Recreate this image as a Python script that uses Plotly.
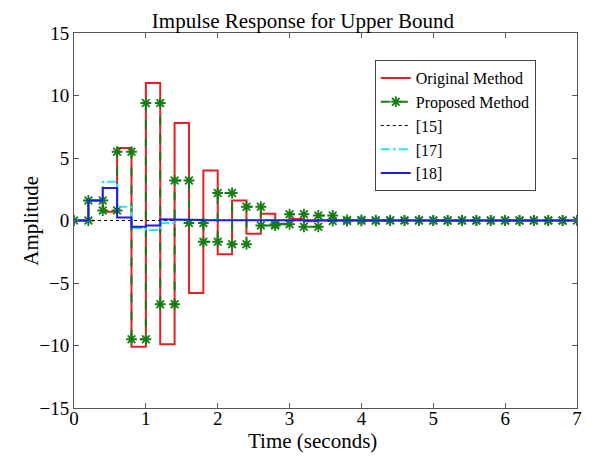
import plotly.graph_objects as go

# sample instants (Ts = 0.2 s), step edges from 0 to 7 s
time = [0.0, 0.2, 0.4, 0.6, 0.8, 1.0, 1.2, 1.4, 1.6, 1.8,
        2.0, 2.2, 2.4, 2.6, 2.8, 3.0, 3.2, 3.4, 3.6, 3.8,
        4.0, 4.2, 4.4, 4.6, 4.8, 5.0, 5.2, 5.4, 5.6, 5.8,
        6.0, 6.2, 6.4, 6.6, 6.8, 7.0]

original = [0, 1.6, 0.7, 5.8, -10.1, 11.0, -9.9, 7.8, -5.8, 4.0,
            -2.7, 1.6, -1.05, 0.55, -0.25, 0.12, -0.05, 0.03, -0.02, 0.01,
            0, 0, 0, 0, 0, 0, 0, 0, 0, 0,
            0, 0, 0, 0, 0]
proposed = [0, 1.6, 0.8, 5.5, -9.5, 9.4, -6.7, 3.2, -0.2, -1.7,
            2.2, -1.9, 1.1, -0.4, -0.3, 0.5, -0.5, 0.4, -0.05, 0.05,
            -0.03, 0.02, -0.01, 0.01, 0, 0, 0, 0, 0, 0,
            0, 0, 0, 0, 0]
ref15 = [0] * 35
ref17 = [0, 1.6, 3.1, 1.1, -0.6, -0.75, -0.2, 0.05, 0.05, 0.02,
         0, 0, 0, 0, 0, 0, 0, 0, 0, 0,
         0, 0, 0, 0, 0, 0, 0, 0, 0, 0,
         0, 0, 0, 0, 0]
ref18 = [0, 1.6, 2.6, 0.25, -0.5, -0.4, 0.1, 0.08, 0.05, 0.02,
         0, 0, 0, 0, 0, 0, 0, 0, 0, 0,
         0, 0, 0, 0, 0, 0, 0, 0, 0, 0,
         0, 0, 0, 0, 0]


def stairs(vals):
    xs, ys = [], []
    for k, v in enumerate(vals):
        xs += [time[k], time[k + 1]]
        ys += [v, v]
    return xs, ys


serif = "Liberation Serif"
fig = go.Figure()

x, y = stairs(original)
fig.add_trace(go.Scatter(x=x, y=y, mode="lines", name="Original Method",
                         line=dict(color="rgb(232,32,36)", width=2)))
x, y = stairs(proposed)
fig.add_trace(go.Scatter(x=x, y=y, mode="lines+markers", name="Proposed Method",
                         line=dict(color="rgb(20,125,20)", width=2, dash="dash"),
                         marker=dict(symbol="asterisk-open", size=9,
                                     line=dict(color="rgb(20,125,20)", width=1.8))))
x, y = stairs(ref15)
fig.add_trace(go.Scatter(x=x, y=y, mode="lines", name="[15]",
                         line=dict(color="black", width=1, dash="dot")))
x, y = stairs(ref17)
fig.add_trace(go.Scatter(x=x, y=y, mode="lines", name="[17]",
                         line=dict(color="rgb(40,230,240)", width=2, dash="dashdot")))
x, y = stairs(ref18)
fig.add_trace(go.Scatter(x=x, y=y, mode="lines", name="[18]",
                         line=dict(color="rgb(30,30,225)", width=2)))

axis = dict(showgrid=False, zeroline=False, showline=True, mirror="ticks",
            linecolor="#555", linewidth=1, ticks="inside", ticklen=5, automargin=False,
            tickcolor="#555", tickfont=dict(family=serif, size=19, color="black"))

# page body has an 8px margin, so the figure is 8px smaller than the window
fig.update_layout(
    width=584, height=451,
    margin=dict(l=66, r=15, t=25, b=51),
    paper_bgcolor="white", plot_bgcolor="white",
    font=dict(family=serif, color="black"),
    title=dict(text="Impulse Response for Upper Bound", x=0.505, xanchor="center",
               y=0.972, yanchor="middle", font=dict(family=serif, size=21)),
    xaxis=dict(axis, range=[0, 7], dtick=1, ticklabelstandoff=-7),
    yaxis=dict(axis, range=[-15, 15], dtick=5),
    legend=dict(x=0.598, y=0.928, xanchor="left", yanchor="top",
                bgcolor="white", bordercolor="#444", borderwidth=1,
                font=dict(family=serif, size=16), tracegroupgap=0),
    showlegend=True,
)

# axis titles placed as annotations for exact positioning
fig.add_annotation(text="Time (seconds)", xref="paper", yref="paper",
                   x=0.475, y=-0.089, xanchor="center", yanchor="middle",
                   showarrow=False, font=dict(family=serif, size=21))
fig.add_annotation(text="Amplitude", xref="paper", yref="paper",
                   x=-0.087, y=0.5, xanchor="center", yanchor="middle", textangle=-90,
                   showarrow=False, font=dict(family=serif, size=21))

fig.write_html("out.html")
